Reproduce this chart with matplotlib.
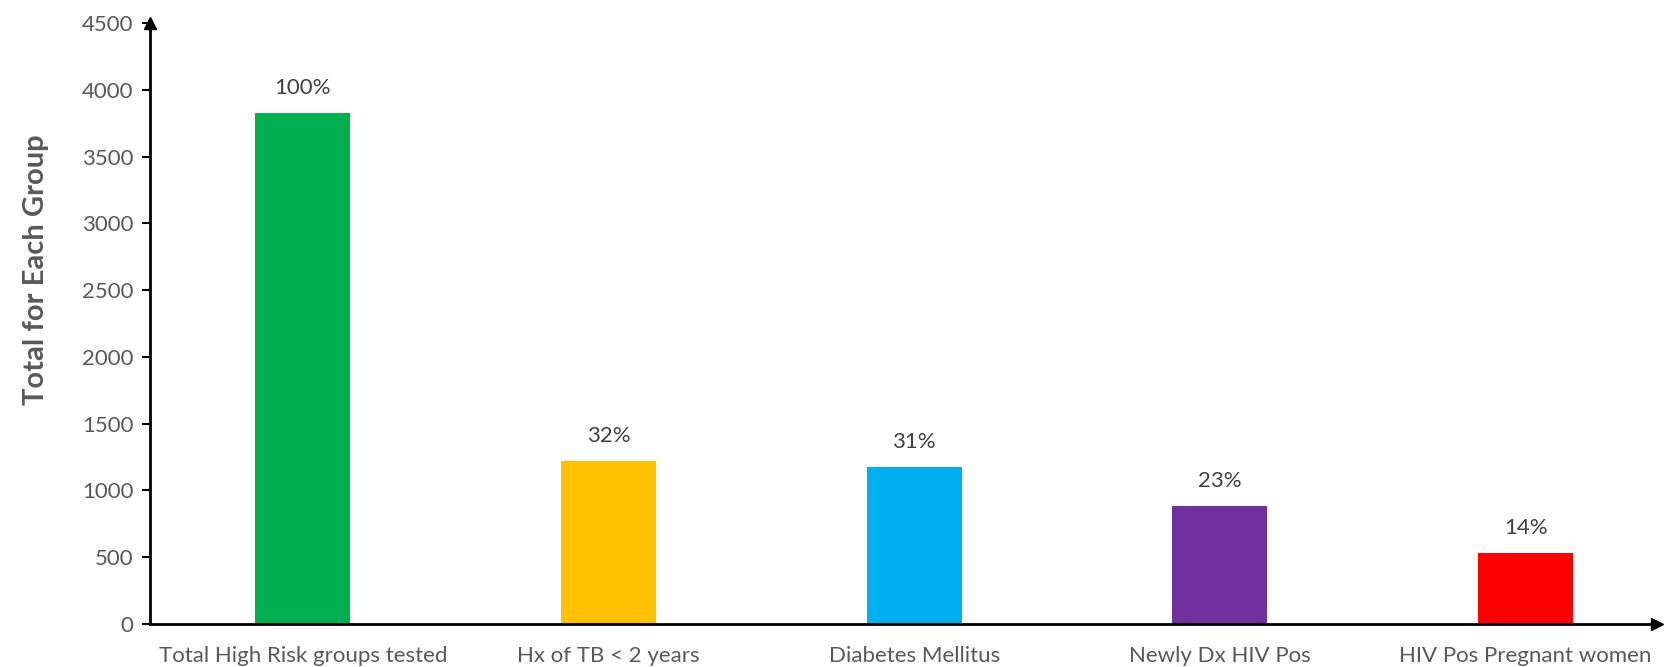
import matplotlib
matplotlib.use("Agg")
import matplotlib.pyplot as plt

categories = ["Total High Risk groups tested", "Hx of TB < 2 years", "Diabetes Mellitus",
              "Newly Dx HIV Pos", "HIV Pos Pregnant women"]
values = [3825, 1220, 1175, 885, 530]
pct_labels = ["100%", "32%", "31%", "23%", "14%"]
colors = ["#00B050", "#FFC000", "#00B0F0", "#7030A0", "#FF0000"]
yticks = [0, 500, 1000, 1500, 2000, 2500, 3000, 3500, 4000, 4500]

plt.rcParams['font.family'] = ['Lato', 'DejaVu Sans']

fig = plt.figure(figsize=(16.65, 6.67), dpi=100)
W, H = 1665, 667
ax = fig.add_axes([150 / W, 43 / H, (1657 - 150) / W, (624 - 23) / H])

x = list(range(len(categories)))
ax.bar(x, values, width=0.31, color=colors, zorder=2)
for xi, v, t in zip(x, values, pct_labels):
    ax.annotate(t, (xi, v), xytext=(0, 11), textcoords="offset points",
                ha="center", va="bottom", fontsize=16, color="#404040")

ax.set_xlim(-0.5, 4.43)
ax.set_ylim(0, 4500)
ax.set_yticks(yticks)
ax.set_xticks(x)
ax.set_xticklabels(categories, fontsize=16, color="#595959")
ax.tick_params(axis="x", length=0, pad=16)
ax.tick_params(axis="y", length=6, width=1.5, labelsize=16, labelcolor="#595959", pad=6)
ax.set_ylabel("Total for Each Group", fontsize=21, fontweight="bold", color="#595959")
ax.yaxis.set_label_coords(-0.067, 0.59)

for s in ["top", "right"]:
    ax.spines[s].set_visible(False)
for s in ["left", "bottom"]:
    ax.spines[s].set_linewidth(2)
    ax.spines[s].set_color("black")

ax.plot([1], [0], marker=">", color="black", markersize=9, transform=ax.transAxes, clip_on=False)
ax.plot([0], [1], marker="^", color="black", markersize=9, transform=ax.transAxes, clip_on=False)

fig.savefig("out.png", dpi=100)
